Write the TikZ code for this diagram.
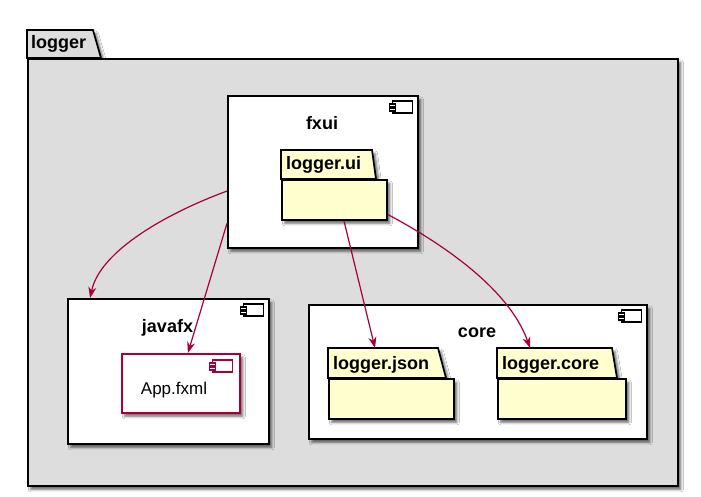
\documentclass[tikz,border=0pt]{standalone}
\usepackage{fontspec}
\setmainfont{Liberation Sans}
\usetikzlibrary{calc,arrows.meta,shadows.blur}
\definecolor{pkgfill}{HTML}{FEFECE}
\definecolor{arr}{HTML}{A80036}
\definecolor{outerfill}{HTML}{DDDDDD}
\tikzset{
  shd/.style={blur shadow={shadow xshift=3pt,shadow yshift=-3.5pt,shadow blur radius=2.5pt,shadow opacity=60}},
  boxline/.style={draw=black,line width=1.7pt},
  comp/.style={boxline,fill=white,shd,anchor=north west,inner sep=0pt},
  pkgbody/.style={boxline,fill=pkgfill,shd,anchor=north west,inner sep=0pt},
  pkgtab/.style={boxline,fill=pkgfill,shd,line join=miter},
  bigtab/.style={boxline,fill=outerfill,shd},
  bold18/.style={font=\bfseries\fontsize{18}{20}\selectfont,inner sep=0pt},
  plain17/.style={font=\fontsize{17}{19}\selectfont,inner sep=0pt},
  dep/.style={draw=arr,line width=1.2pt,-{Stealth[length=11pt,width=8pt,inset=3.5pt]}},
  compicon/.pic={
    \draw[line width=1.1pt,fill=white] (-26,6) rectangle (-6,18);
    \draw[line width=1.1pt,fill=white] (-29,9) rectangle (-23,12);
    \draw[line width=1.1pt,fill=white] (-29,13) rectangle (-23,16);
  }
}
\begin{document}
\begin{tikzpicture}[x=1pt,y=-1pt]
\fill[white] (0,0) rectangle (701,497);
\useasboundingbox (0,0) rectangle (701,497);

% outer package logger
\coordinate (loggerNW) at (27,58);
\draw[bigtab] (loggerNW) -- ++(0,-28) -- ++(66,0) -- ($(loggerNW)+(74,0)$) -- cycle;
\node[boxline,fill=outerfill,shd,anchor=north west,inner sep=0pt,minimum width=650pt,minimum height=427pt] (logger) at (loggerNW) {};
\node[bold18,anchor=west] (loggerlbl) at (31,44) {logger};

% fxui component
\node[comp,minimum width=190pt,minimum height=152pt] (fxui) at (227,95) {};
\pic at (fxui.north east) {compicon};
\node[bold18] (fxuilbl) at (322,123) {fxui};

% logger.ui package
\coordinate (uiNW) at (281,179);
\draw[pkgtab] (uiNW) -- ++(0,-29) -- ++(91,0) -- ($(uiNW)+(95,0)$) -- cycle;
\node[pkgbody,minimum width=105pt,minimum height=40pt] (ui) at (uiNW) {};
\node[bold18,anchor=west] (uilbl) at (286,165) {logger.ui};

% javafx component
\node[comp,minimum width=201pt,minimum height=145pt] (javafx) at (67,298) {};
\pic at (javafx.north east) {compicon};
\node[bold18] (javafxlbl) at (167.5,328) {javafx};

% App.fxml
\node[draw=arr,line width=1.5pt,fill=white,shd,anchor=north west,inner sep=0pt,minimum width=118pt,minimum height=59pt] (app) at (121,353) {};
\pic[color=arr] at ($(app.north east)+(-2,1)$) {compicon};
\node[plain17] (applbl) at (174,390) {App.fxml};

% core component
\node[comp,minimum width=338pt,minimum height=134pt] (core) at (308,304) {};
\pic at (core.north east) {compicon};
\node[bold18] (corelbl) at (477,333) {core};

% logger.json package
\coordinate (jsonNW) at (328,378);
\draw[pkgtab] (jsonNW) -- ++(0,-30) -- ++(110,0) -- ($(jsonNW)+(118,0)$) -- cycle;
\node[pkgbody,minimum width=125pt,minimum height=40pt] (json) at (jsonNW) {};
\node[bold18,anchor=west] (jsonlbl) at (333,364.5) {logger.json};

% logger.core package
\coordinate (lcoreNW) at (497,378);
\draw[pkgtab] (lcoreNW) -- ++(0,-30) -- ++(115,0) -- ($(lcoreNW)+(120,0)$) -- cycle;
\node[pkgbody,minimum width=128pt,minimum height=40pt] (lcore) at (lcoreNW) {};
\node[bold18,anchor=west] (lcorelbl) at (502,364.5) {logger.core};

% tab tops as named coordinates
\coordinate (jsontop) at ($(jsonNW)+(47,-30)$);
\coordinate (lcoretop) at ($(lcoreNW)+(33,-30)$);

% dependencies
\draw[dep] ($(fxui.north west)!0.625!(fxui.south west)$) .. controls (170,212) and (100,250) .. ($(javafx.north west)!0.114!(javafx.north east)$);
\draw[dep] ($(fxui.north west)!0.835!(fxui.south west)$) -- ($(app.north west)!0.56!(app.north east)$);
\draw[dep] ($(ui.south west)!0.59!(ui.south east)$) -- (jsontop);
\draw[dep] ($(ui.north east)!0.85!(ui.south east)$) .. controls (432,238) and (508,285) .. (lcoretop);
\end{tikzpicture}
\end{document}
